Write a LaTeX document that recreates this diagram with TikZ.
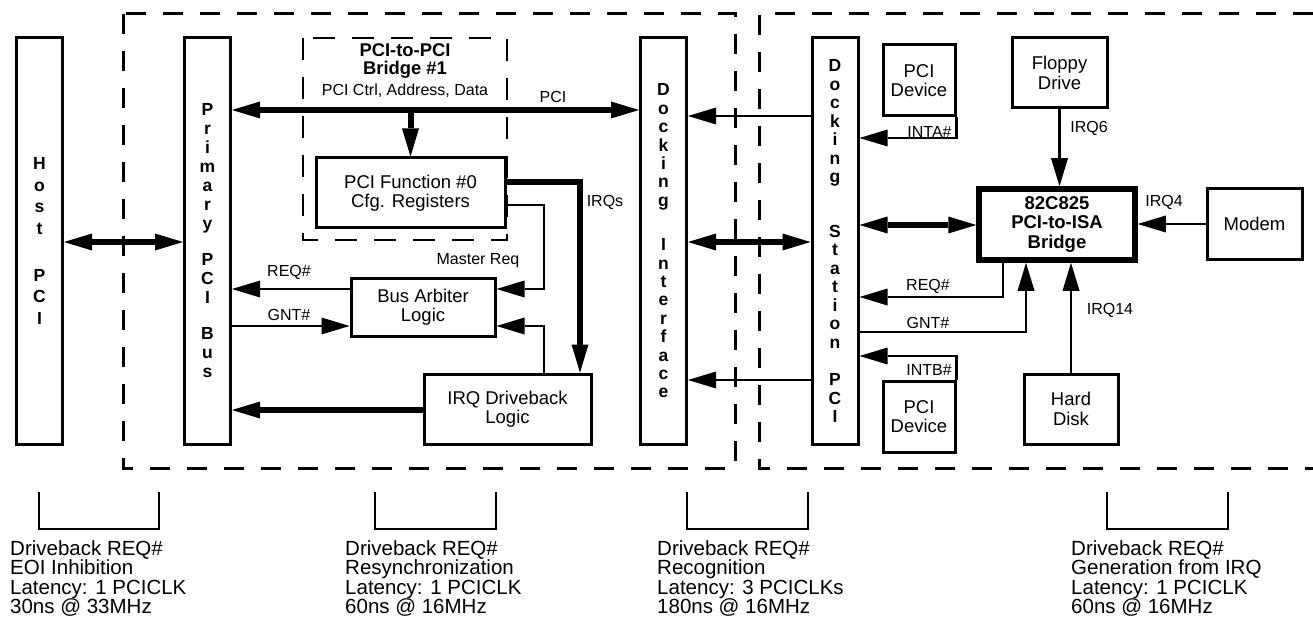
\documentclass[tikz,border=0pt]{standalone}
\usepackage{fontspec}
\setmainfont{Liberation Sans}
\usetikzlibrary{arrows.meta}
\begin{document}
\begin{tikzpicture}[x=1pt,y=-1pt,
  >={Triangle[length=28pt,width=17pt,line width=0pt]},
  thinln/.style={line width=2.6pt},
  thickln/.style={line width=6pt},
  boxst/.style={draw,line width=3pt,inner sep=0pt,align=center,font=\fontsize{18.5}{19.5}\selectfont},
  barst/.style={draw,line width=3pt,inner sep=0pt,align=center,minimum width=46pt,minimum height=406pt},
  lbl/.style={inner sep=0pt,font=\fontsize{16}{18}\selectfont},
  note/.style={inner sep=0pt,anchor=north west,align=left,font=\fontsize{20.5}{19.6}\selectfont},
  region/.style={line width=3pt,dash pattern=on 20pt off 17pt},
  subregion/.style={line width=2.5pt,dash pattern=on 22pt off 17pt},
  bracketln/.style={line width=2.6pt}
]
\useasboundingbox[fill=white] (0,0) rectangle (1313,620);

% dashed regions
\draw[region] (123,14) rectangle (735,468);
\draw[region] (1313,14) -- (759,14) -- (759,468) -- (1313,468);
\draw[subregion] (303,38) rectangle (507,240);

% vertical bars
\node[barst,font=\fontsize{17.5}{21.7}\selectfont\bfseries] (host) at (39.5,241) {H\\o\\s\\t\\[25pt]P\\C\\I};
\node[barst,font=\fontsize{17.5}{19}\selectfont\bfseries] (prim) at (207.5,241) {P\\r\\i\\m\\a\\r\\y\\[17pt]P\\C\\I\\[17pt]B\\u\\s};
\node[barst,font=\fontsize{17.5}{18.4}\selectfont\bfseries] (di) at (663.5,241) {D\\o\\c\\k\\i\\n\\g\\[26pt]I\\n\\t\\e\\r\\f\\a\\c\\e};
\node[barst,font=\fontsize{17.5}{18.5}\selectfont\bfseries] (ds) at (835,241) {D\\o\\c\\k\\i\\n\\g\\[36pt]S\\t\\a\\t\\i\\o\\n\\[19pt]P\\C\\I};

% boxes
\node[boxst,minimum width=189pt,minimum height=70pt] (func) at (410.5,193) {PCI Function \#0\\Cfg. Registers};
\node[boxst,minimum width=144pt,minimum height=58pt] (arb) at (423,307) {Bus Arbiter\\Logic};
\node[boxst,minimum width=167pt,minimum height=70pt] (irqd) at (507.5,409) {IRQ Driveback\\Logic};
\node[boxst,minimum width=72pt,minimum height=71pt] (dev1) at (919,80.5) {PCI\\Device};
\node[boxst,minimum width=72pt,minimum height=71pt] (dev2) at (919,416.5) {PCI\\Device};
\node[boxst,minimum width=95pt,minimum height=70pt] (floppy) at (1059.5,73) {Floppy\\Drive};
\node[boxst,line width=5.5pt,minimum width=156pt,minimum height=71pt,font=\fontsize{18.5}{19.5}\selectfont\bfseries] (isa) at (1057,224.5) {82C825\\PCI-to-ISA\\Bridge};
\node[boxst,minimum width=95pt,minimum height=70pt] (modem) at (1254.5,224) {Modem};
\node[boxst,minimum width=94pt,minimum height=70pt] (hdd) at (1071,409) {Hard\\Disk};

% bridge title
\node[inner sep=0pt,align=center,font=\fontsize{18.4}{18.5}\selectfont\bfseries] (btitle) at (405,61) {PCI-to-PCI\\Bridge \#1};
\node[inner sep=0pt,font=\fontsize{16}{18}\selectfont] (bsub) at (405,91) {PCI Ctrl, Address, Data};

% helper coordinates
\coordinate (yhp) at (0,242);
\coordinate (ybus) at (0,110);
\coordinate (cirq) at (580,182);
\coordinate (cmr) at (544,205);
\coordinate (yreq) at (0,289);
\coordinate (ygnt) at (0,326);
\coordinate (ydb) at (0,410);
\coordinate (y116) at (0,116);
\coordinate (y380) at (0,380);
\coordinate (yinta) at (0,138);
\coordinate (yisa) at (0,225);
\coordinate (creq) at (1003,297);
\coordinate (cgnt) at (1026,332);
\coordinate (yintb) at (0,356);

% connectors, left region
\draw[thickln,<->] (host.east |- yhp) -- (prim.west |- yhp);
\draw[thickln,<->] (prim.east |- ybus) -- (di.west |- ybus);
\draw[thickln,->] (func.north |- ybus) -- (func.north);
\draw[thickln,->] (func.east |- cirq) -| (irqd.north -| cirq);
\draw[thinln,->] (func.east |- cmr) -- (cmr) |- (arb.east |- yreq);
\draw[thinln,->] (irqd.north -| cmr) |- (arb.east |- ygnt);
\draw[thinln,->] (arb.west |- yreq) -- (prim.east |- yreq);
\draw[thinln,->] (prim.east |- ygnt) -- (arb.west |- ygnt);
\draw[thickln,->] (irqd.west |- ydb) -- (prim.east |- ydb);

% between docking interface and station
\draw[thinln,->] (ds.west |- y116) -- (di.east |- y116);
\draw[thickln,<->] (di.east |- yhp) -- (ds.west |- yhp);
\draw[thinln,->] (ds.west |- y380) -- (di.east |- y380);

% right region
\draw[thinln,->] (dev1.south east) |- (ds.east |- yinta);
\draw[thickln,<->] (ds.east |- yisa) -- (isa.west |- yisa);
\draw[thinln,->] (isa.south -| creq) |- (ds.east |- creq);
\draw[thinln,->] (ds.east |- cgnt) -| (isa.south -| cgnt);
\draw[thinln,->] (dev2.north east) |- (ds.east |- yintb);
\draw[thinln,->] (floppy.south) -- (isa.north -| floppy.south);
\draw[thinln,->] (modem.west) -- (isa.east |- modem.west);
\draw[thinln,->] (hdd.north) -- (isa.south -| hdd.north);

% labels
\node[lbl] (lpci) at (553,97) {PCI};
\node[lbl] (lirqs) at (605,202) {IRQs};
\node[lbl] (lmreq) at (478,261) {Master Req};
\node[lbl] (lreq1) at (289,272) {REQ\#};
\node[lbl] (lgnt1) at (289,315) {GNT\#};
\node[lbl] (linta) at (929.5,132) {INTA\#};
\node[lbl] (lreq2) at (928,286) {REQ\#};
\node[lbl] (lgnt2) at (928,323) {GNT\#};
\node[lbl] (lintb) at (929,370) {INTB\#};
\node[lbl] (lirq6) at (1089,128) {IRQ6};
\node[lbl] (lirq4) at (1164,202) {IRQ4};
\node[lbl] (lirq14) at (1110,310) {IRQ14};

% brackets
\draw[bracketln] (39,492) -- (39,529) -- (159,529) -- (159,492);
\draw[bracketln] (375,492) -- (375,529) -- (496,529) -- (496,492);
\draw[bracketln] (687,492) -- (687,529) -- (808,529) -- (808,492);
\draw[bracketln] (1107,492) -- (1107,529) -- (1228,529) -- (1228,492);

% notes
\node[note] (n1) at (10,540) {Driveback REQ\#\\EOI Inhibition\\Latency: 1 PCICLK\\30ns @ 33MHz};
\node[note] (n2) at (345,540) {Driveback REQ\#\\Resynchronization\\Latency: 1 PCICLK\\60ns @ 16MHz};
\node[note] (n3) at (657,540) {Driveback REQ\#\\Recognition\\Latency: 3 PCICLKs\\180ns @ 16MHz};
\node[note] (n4) at (1071,540) {Driveback REQ\#\\Generation from IRQ\\Latency: 1 PCICLK\\60ns @ 16MHz};
\end{tikzpicture}
\end{document}
